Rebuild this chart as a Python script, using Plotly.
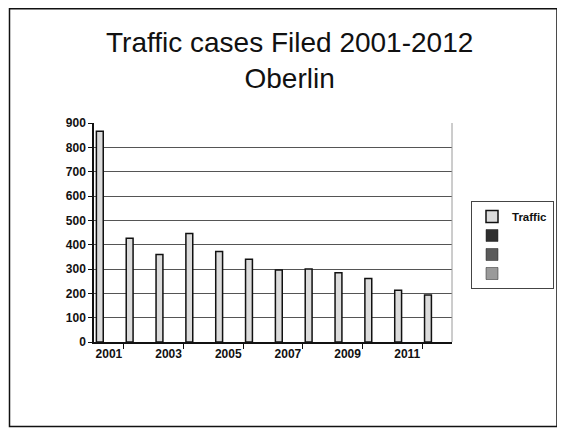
import plotly.graph_objects as go

years = [2001, 2002, 2003, 2004, 2005, 2006, 2007, 2008, 2009, 2010, 2011, 2012]
traffic = [866, 426, 360, 446, 372, 340, 296, 300, 285, 261, 213, 193]
tick_years = [2001, 2003, 2005, 2007, 2009, 2011]
tick_labels = ["2001", "2003", "2005", "2007", "2009", "2011"]
series_name = "Traffic"
title_text = "Traffic cases Filed 2001-2012<br>Oberlin"
empty_series_colors = ["#2e2e2e", "#5a5a5a", "#9a9a9a"]

# figure sits at page offset (8, 8) because of the default body margin
W, H = 551, 420
L, R, T, B = 86, 107, 115, 86
pw, ph = W - L - R, H - T - B
FONT = "Liberation Sans, Arial, sans-serif"

fig = go.Figure()
fig.add_trace(go.Bar(
    x=years, y=traffic, name=series_name,
    offset=-0.42, width=0.23,
    marker=dict(color="#dcdcdc", line=dict(color="#111111", width=1.5)),
))
for c in empty_series_colors:
    fig.add_trace(go.Bar(
        x=[years[0]], y=[None], name=" ",
        marker=dict(color=c, line=dict(color="#222222", width=0.5)),
    ))

def px_x(p):
    return (p - L) / pw

def px_y(p):
    return (H - B - p) / ph

fig.add_shape(type="rect", xref="paper", yref="paper",
              x0=px_x(1.5), x1=px_x(549), y0=px_y(418.5), y1=px_y(0.8),
              line=dict(color="#111111", width=1.5), fillcolor="rgba(0,0,0,0)")
fig.add_shape(type="line", xref="paper", yref="paper",
              x0=1, x1=1, y0=0, y1=1, line=dict(color="#9a9a9a", width=1))

fig.add_annotation(text=title_text, xref="paper", yref="paper",
                   x=px_x(281.5), y=px_y(52.5), xanchor="center", yanchor="middle",
                   showarrow=False, align="center",
                   font=dict(size=28, color="#111111", family=FONT))

fig.update_layout(
    width=W, height=H,
    margin=dict(l=L, r=R, t=T, b=B),
    paper_bgcolor="white", plot_bgcolor="white",
    barmode="overlay",
    font=dict(family=FONT, color="#111111"),
    showlegend=True,
    legend=dict(xref="container", yref="container",
                x=463 / W, y=1 - 193 / H, xanchor="left", yanchor="top",
                bordercolor="#444444", borderwidth=1, bgcolor="white",
                font=dict(size=11.5, color="#111111", family=FONT, weight="bold"),
                itemwidth=30, tracegroupgap=2),
    xaxis=dict(range=[2000.5, 2012.5], tickvals=tick_years, ticktext=tick_labels,
               ticks="", showgrid=False, showline=True, linecolor="#111111", linewidth=1.5,
               tickfont=dict(size=12, family=FONT, weight="bold"),
               minor=dict(ticks="outside", tick0=2001.5, dtick=2, ticklen=5,
                          tickcolor="#111111", showgrid=False),
               zeroline=False),
    yaxis=dict(range=[0, 900], dtick=100, ticks="outside", ticklen=4, tickcolor="#111111",
               showgrid=True, gridcolor="#555555", gridwidth=1,
               showline=True, linecolor="#111111", linewidth=1.5,
               tickfont=dict(size=12, family=FONT, weight="bold"),
               zeroline=False),
)

fig.write_html("out.html")
